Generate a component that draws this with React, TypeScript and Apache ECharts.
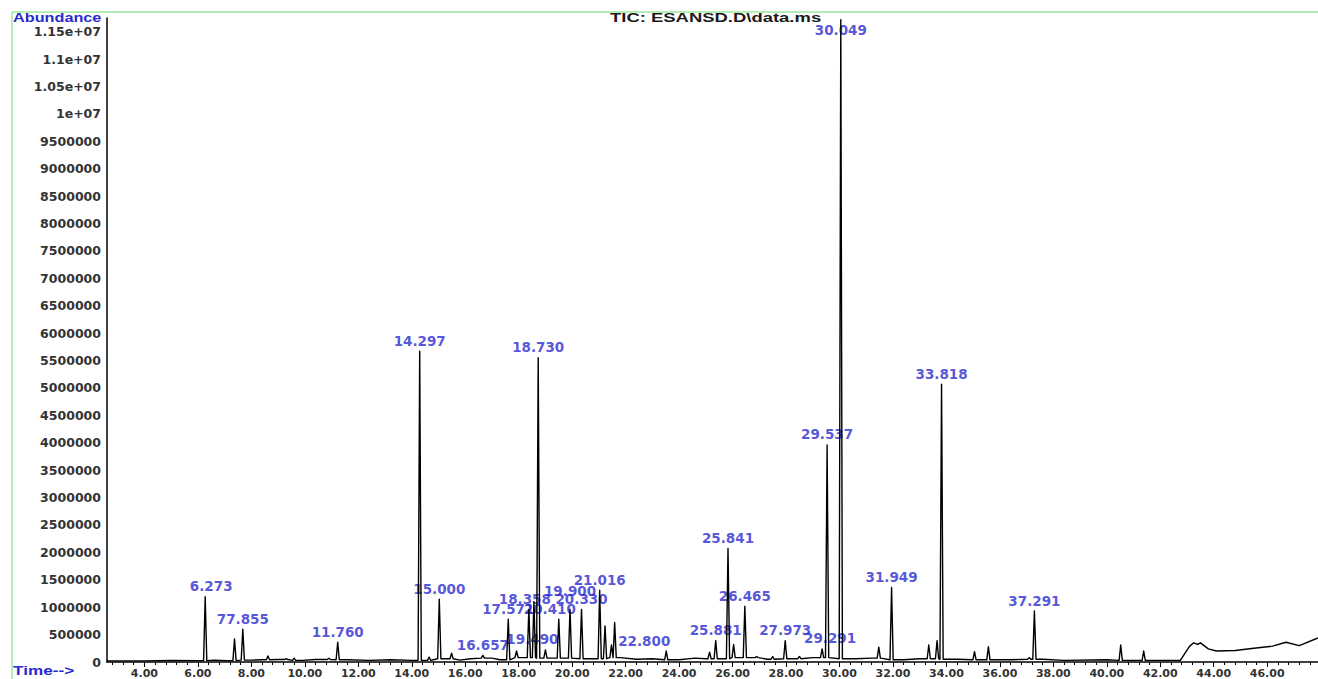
import React, { useEffect, useRef } from "react";
import * as echarts from "echarts";

// Retention time (min) of each peak apex
const peakTimes = [
  6.273, 7.37, 7.68, 8.62, 9.3, 9.6, 10.9, 11.23, 14.297, 14.65, 15.03, 15.49, 16.66, 17.61, 17.92,
  18.38, 18.57, 18.73, 19.0, 19.5, 19.92, 20.35, 21.03, 21.23, 21.47, 21.59, 23.52, 25.14, 25.37,
  25.83, 26.04, 26.46, 26.9, 27.5, 27.97, 28.5, 29.35, 29.537, 30.049, 31.47, 31.949, 33.34, 33.65,
  33.818, 35.05, 35.57, 37.1, 37.291, 40.52, 41.38,
];
// Abundance at each apex
const peakHeights = [
  1190000, 420000, 600000, 110000, 60000, 70000, 70000, 360000, 5670000, 90000, 1145000, 160000,
  120000, 780000, 200000, 960000, 1100000, 5550000, 220000, 780000, 960000, 960000, 1310000, 660000,
  310000, 720000, 200000, 180000, 390000, 2070000, 320000, 1020000, 100000, 100000, 390000, 100000,
  240000, 3960000, 11720000, 270000, 1360000, 310000, 390000, 5070000, 190000, 280000, 80000, 930000,
  310000, 200000,
];
// Printed label of each peak ("" = unlabelled)
const peakLabels = [
  "6.273", "", "77.855", "", "", "", "", "11.760", "14.297", "", "15.000", "", "16.657", "17.571", "",
  "18.358", "", "18.730", "19.490", "20.410", "19.900", "20.330", "21.016", "", "", "", "22.800", "",
  "25.881", "25.841", "", "26.465", "", "", "27.973", "", "29.291", "29.537", "30.049", "", "31.949",
  "", "", "33.818", "", "", "", "37.291", "", "",
];
// Baseline (noise / drift) between peaks
const baseTimes = [
  2.6, 4.0, 5.0, 6.0, 6.6, 7.1, 8.0, 8.4, 9.0, 9.9, 10.4, 11.6, 12.4, 13.2, 14.0, 15.3, 15.8, 16.2,
  17.0, 17.3, 18.1, 19.25, 20.7, 21.8, 22.4, 23.0, 24.0, 24.6, 25.0, 26.7, 27.3, 28.2, 29.0, 30.6,
  31.2, 32.4, 33.0, 34.4, 35.3, 36.4, 37.6, 38.4, 40.0, 41.0, 42.0, 42.75, 43.1, 43.25, 43.4, 43.5,
  43.8, 44.1, 44.8, 45.5, 46.2, 46.7, 47.2, 47.9,
];
const baseValues = [
  20000, 20000, 30000, 25000, 35000, 25000, 35000, 40000, 45000, 30000, 45000, 40000, 30000, 40000,
  30000, 60000, 35000, 60000, 70000, 40000, 80000, 70000, 60000, 80000, 50000, 60000, 40000, 70000,
  60000, 80000, 50000, 60000, 80000, 60000, 70000, 40000, 60000, 50000, 40000, 40000, 50000, 30000,
  40000, 30000, 30000, 30000, 290000, 350000, 320000, 350000, 240000, 200000, 210000, 250000,
  290000, 360000, 300000, 440000,
];
// Time-axis tick labels
const xTickLabels = ["4.00", "6.00", "8.00", "10.00", "12.00", "14.00", "16.00", "18.00", "20.00", "22.00", "24.00", "26.00", "28.00", "30.00", "32.00", "34.00", "36.00", "38.00", "40.00", "42.00", "44.00", "46.00"];

const HALF_WIDTH = 0.06;
const labelOffsets: Record<string, [number, number]> = {
  "6.273": [6, 0],
  "22.800": [-22, 0],
  "19.490": [-13, 0],
  "20.410": [-9, 0],
  "18.358": [-4, 0],
  "29.291": [8, 0],
  "19.900": [0, -8],
  "30.049": [0, 21],
};

function buildTrace(): [number, number][] {
  const nearestBase = (t: number) => {
    let best = 0;
    for (let i = 1; i < baseTimes.length; i++) {
      if (Math.abs(baseTimes[i] - t) < Math.abs(baseTimes[best] - t)) best = i;
    }
    return baseValues[best];
  };
  const pts: [number, number][] = [];
  baseTimes.forEach((t, i) => {
    const inside = peakTimes.some((p) => Math.abs(p - t) <= HALF_WIDTH);
    if (!inside) pts.push([t, baseValues[i]]);
  });
  peakTimes.forEach((t, i) => {
    const b = nearestBase(t);
    pts.push([t - HALF_WIDTH, b]);
    pts.push([t, peakHeights[i]]);
    pts.push([t + HALF_WIDTH, b]);
  });
  pts.sort((a, b) => a[0] - b[0]);
  return pts;
}

export default function App() {
  const ref = useRef<HTMLDivElement>(null);
  useEffect(() => {
    if (!ref.current) return;
    const chart = echarts.init(ref.current, null, { renderer: "svg" });
    const xMajor = xTickLabels.map((s) => parseFloat(s));
    const xMinor: number[] = [];
    for (let k = 7; k <= 119; k++) xMinor.push(+(k * 0.4).toFixed(2));
    const labelData = peakTimes
      .map((t, i) => ({ t, h: peakHeights[i], name: peakLabels[i] }))
      .filter((d) => d.name !== "")
      .map((d) => ({
        name: d.name,
        value: [d.t, d.h],
        label: { offset: labelOffsets[d.name] || [0, 0] },
      }));
    const blue = "#2a2ad0";
    chart.setOption({
      animation: false,
      backgroundColor: "#ffffff",
      grid: { left: 107, right: 0, top: 18, bottom: 16, containLabel: false },
      xAxis: [
        {
          type: "value",
          min: 2.6,
          max: 47.9,
          axisLine: { show: true, lineStyle: { color: "#000", width: 1.5 } },
          axisTick: { show: true, length: 5, customValues: xMajor, lineStyle: { color: "#000" } },
          axisLabel: {
            show: true,
            customValues: xMajor,
            formatter: (v: number) => xTickLabels[xMajor.indexOf(v)] ?? v.toFixed(2),
            color: "#333",
            fontFamily: "DejaVu Sans",
            fontWeight: "bold",
            fontSize: 11,
            margin: 6,
          },
          splitLine: { show: false },
        },
        {
          type: "value",
          min: 2.6,
          max: 47.9,
          position: "bottom",
          axisLine: { show: false },
          axisTick: { show: true, length: 3, customValues: xMinor, lineStyle: { color: "#000" } },
          axisLabel: { show: false },
          splitLine: { show: false },
        },
      ],
      yAxis: {
        type: "value",
        min: 0,
        max: 11750000,
        interval: 500000,
        axisLine: { show: true, lineStyle: { color: "#000", width: 1.5 } },
        axisTick: { show: false },
        splitLine: { show: false },
        axisLabel: {
          showMaxLabel: false,
          formatter: (v: number) => (v >= 1e7 ? `${+(v / 1e7).toFixed(2)}e+07` : `${v}`),
          color: "#333",
          fontFamily: "DejaVu Sans",
          fontWeight: "bold",
          fontSize: 12.5,
          margin: 6,
        },
      },
      series: [
        {
          type: "line",
          xAxisIndex: 0,
          data: buildTrace(),
          showSymbol: false,
          symbol: "none",
          lineStyle: { color: "#000", width: 1.4, join: "round" },
          silent: true,
        },
        {
          type: "scatter",
          xAxisIndex: 0,
          data: labelData,
          symbolSize: 1,
          itemStyle: { color: "rgba(0,0,0,0)" },
          silent: true,
          label: {
            show: true,
            position: "top",
            distance: 3,
            formatter: "{b}",
            color: blue,
            fontFamily: "DejaVu Sans",
            fontWeight: "bold",
            fontSize: 13.5,
          },
        },
      ],
      graphic: [
        { type: "line", shape: { x1: 12, y1: 12, x2: 1318, y2: 12 }, style: { stroke: "#9be89b", lineWidth: 1.5 } },
        { type: "line", shape: { x1: 12, y1: 12, x2: 12, y2: 679 }, style: { stroke: "#9be89b", lineWidth: 1.5 } },
        {
          type: "text",
          x: 13,
          y: 18,
          scaleX: 1.3,
          style: {
            text: "Abundance",
            fill: blue,
            fontFamily: "Liberation Sans",
            fontWeight: "bold",
            fontSize: 12.5,
            textAlign: "left",
            textVerticalAlign: "middle",
          },
        },
        {
          type: "text",
          x: 13,
          y: 671,
          scaleX: 1.43,
          style: {
            text: "Time-->",
            fill: blue,
            fontFamily: "Liberation Sans",
            fontWeight: "bold",
            fontSize: 12,
            textAlign: "left",
            textVerticalAlign: "middle",
          },
        },
        {
          type: "text",
          x: 610,
          y: 18,
          scaleX: 1.42,
          style: {
            text: "TIC: ESANSD.D\\data.ms",
            fill: "#1a1a1a",
            fontFamily: "Liberation Sans",
            fontWeight: "bold",
            fontSize: 13,
            textAlign: "left",
            textVerticalAlign: "middle",
          },
        },
      ],
    });
    return () => chart.dispose();
  }, []);
  return (
    <div
      ref={ref}
      style={{ position: "fixed", left: 0, top: 0, width: 1318, height: 679, background: "#fff" }}
    />
  );
}
